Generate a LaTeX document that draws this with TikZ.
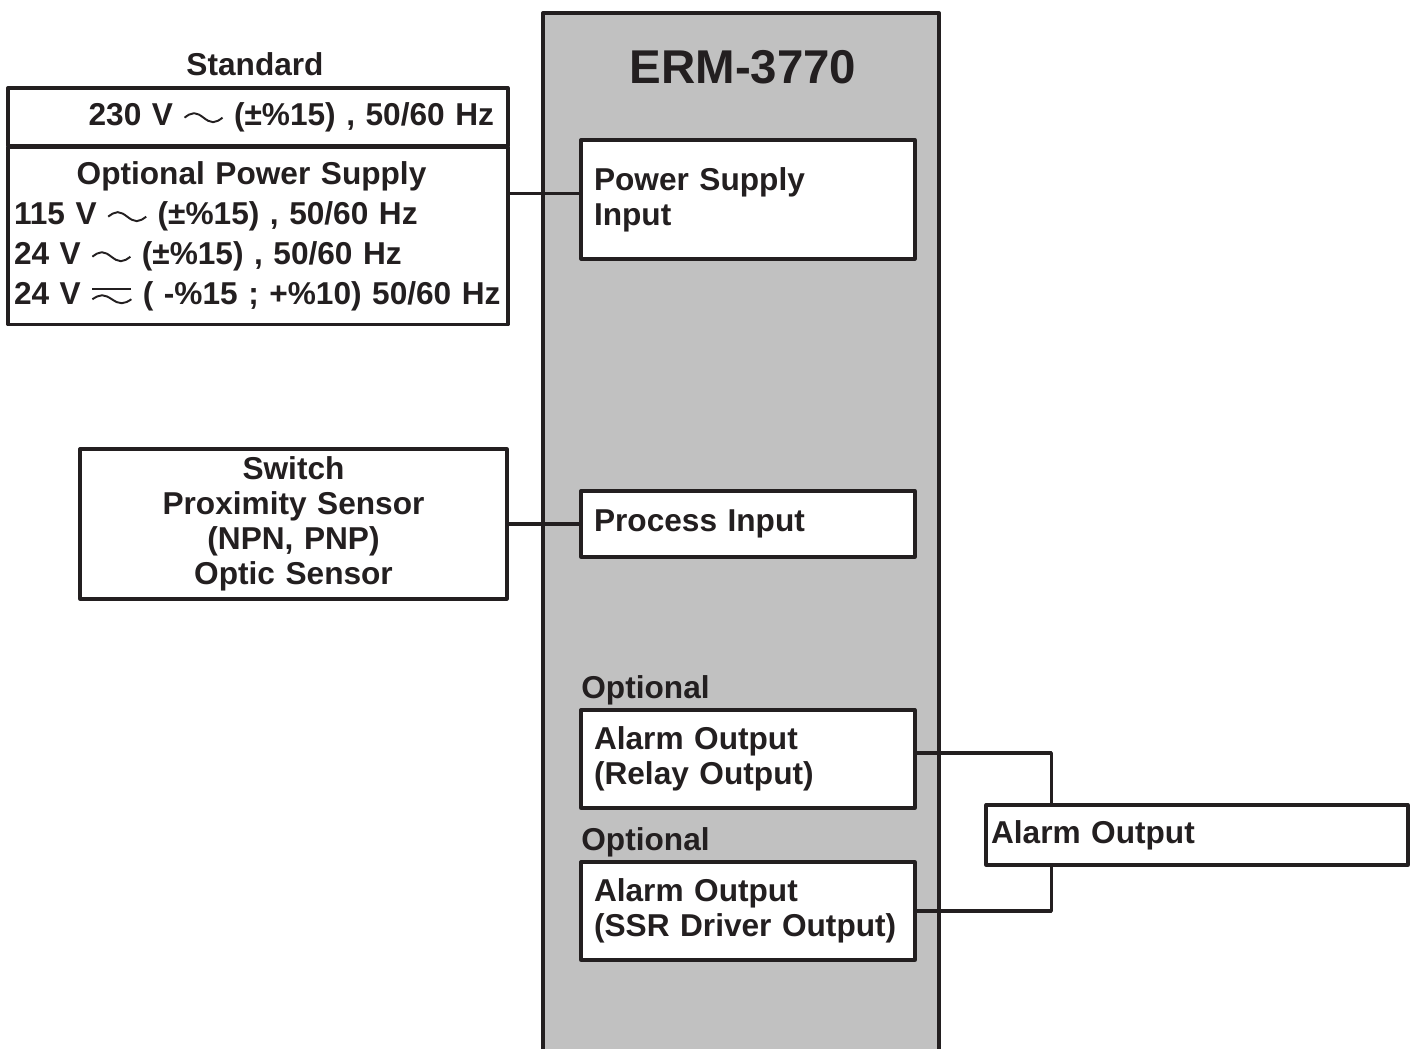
\documentclass[tikz,border=0pt]{standalone}
\usepackage{fontspec}
\setmainfont{Liberation Sans}
\definecolor{ink}{RGB}{35,31,32}
\definecolor{panel}{RGB}{193,193,193}
% AC and AC/DC symbols
\newcommand{\acwave}{\tikz[baseline=-0.15cm,x=1cm,y=1cm]\draw[draw=ink,line width=1.1pt] (0,0) sin (0.19,0.09) cos (0.38,0) sin (0.57,-0.09) cos (0.76,0);}
\newcommand{\acdcwave}{\tikz[baseline=-0.1cm,x=1cm,y=1cm]{\draw[draw=ink,line width=1.1pt] (0,0.2)--(0.78,0.2);
		\draw[draw=ink,line width=1.1pt] (0,0) sin (0.195,0.08) cos (0.39,0) sin (0.585,-0.08) cos (0.78,0);}}
\tikzset{
	blk/.style={draw=ink, line width=1.9pt, fill=white, text=ink, inner ysep=0pt},
	lblock/.style={blk, minimum width=6.68cm, text width=6.16cm, align=left, inner xsep=0.26cm},
	lbl/.style={text=ink, inner sep=0pt},
	wire/.style={draw=ink, line width=1.9pt}
}
\begin{document}
\begin{tikzpicture}[x=0.02cm, y=-0.02cm, font=\fontsize{18}{20}\selectfont\bfseries, line join=round, line cap=round,>=stealth]
	\useasboundingbox (0,0) rectangle (1412,1048);
	%\draw[color=gray!50,dashed] (0,0) grid[step=100] (1412,1048);
	\node[draw=ink, line width=2pt, fill=panel, minimum width=7.92cm, minimum height=21.4cm, anchor=north, inner sep=0pt] (erm) at (741,11) {};
	\node[lbl, font=\fontsize{27}{30}\selectfont\bfseries] (title) at (743,67) {ERM-3770};
	
	\node[lbl] (std) at (255,64) {Standard};
	\node[blk, minimum width=10cm, minimum height=1.16cm, text width=9.44cm, align=right, inner xsep=0.28cm] (pstd) at (258,117) {230 V \acwave{} (±\%15) , 50/60 Hz};
	\node[blk, minimum width=10cm, minimum height=3.54cm, text width=9.76cm, align=left, inner xsep=0.12cm, font=\fontsize{18}{22.8}\selectfont\bfseries] (popt) at (258,236)
		{\makebox[9.5cm]{Optional Power Supply}\\115 V \acwave{} (±\%15) , 50/60 Hz\\24 V \acwave{} (±\%15) , 50/60 Hz\\24 V \acdcwave{} ( -\%15 ; +\%10) 50/60 Hz};
	\node[blk, minimum width=8.54cm, minimum height=3cm, text width=8.2cm, align=center] (sens) at (293.5,524) {Switch\\Proximity Sensor\\(NPN, PNP)\\Optic Sensor};
	
	\node[lblock, minimum height=2.38cm] (psin) at (748,199.5) {Power Supply\\Input};
	\node[lblock, minimum height=1.32cm] (procin) at (748,524) {Process Input};
	\node[lbl, anchor=west] (opt1) at (581,690) {Optional};
	\node[lblock, minimum height=1.96cm] (relay) at (748,759) {Alarm Output\\(Relay Output)};
	\node[lbl, anchor=west] (opt2) at (581,842) {Optional};
	\node[lblock, minimum height=1.96cm] (ssr) at (748,911) {Alarm Output\\(SSR Driver Output)};
	
	\node[blk, minimum width=8.44cm, minimum height=1.2cm, text width=8.24cm, align=left, inner xsep=0.1cm] (alarm) at (1197,835) {Alarm Output};
	
	\draw[wire] ([yshift=0.12cm]psin.west) -- ([yshift=0.12cm]psin.west -| popt.east);
	\draw[wire] (sens.east) -- (procin.west);
	\draw[wire] ([yshift=0.12cm]relay.east) -| ([xshift=1.34cm]alarm.north west);
	\draw[wire] (ssr.east) -| ([xshift=1.34cm]alarm.south west);
\end{tikzpicture}
\end{document}
